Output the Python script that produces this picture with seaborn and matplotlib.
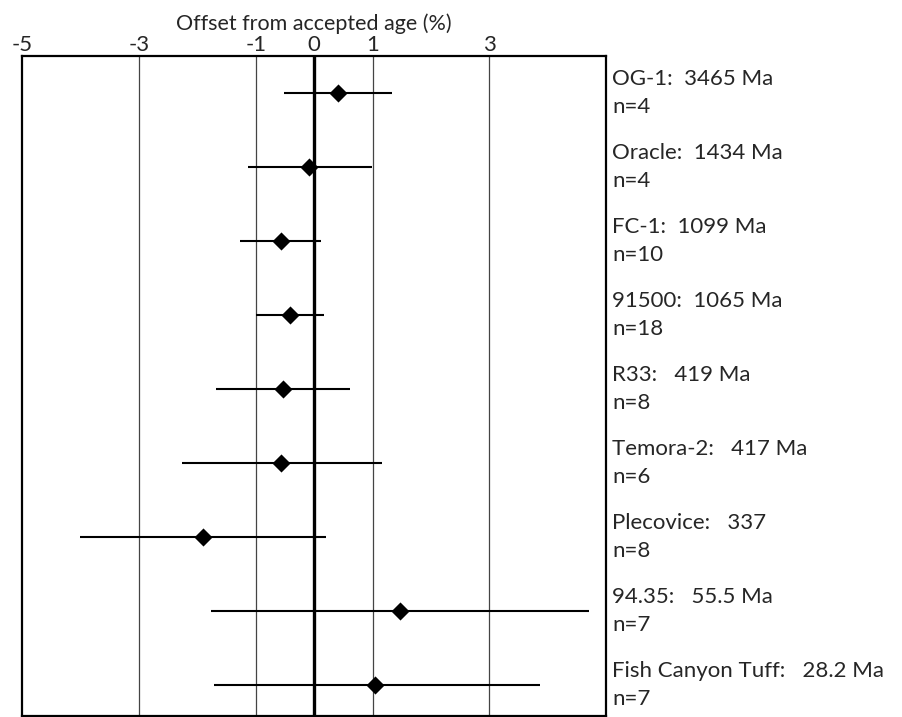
import matplotlib
matplotlib.use("Agg")
import matplotlib.pyplot as plt
import matplotlib.transforms as mtransforms
import seaborn as sns
import pandas as pd

names = ["OG-1:  3465 Ma", "Oracle:  1434 Ma", "FC-1:  1099 Ma", "91500:  1065 Ma",
         "R33:   419 Ma", "Temora-2:   417 Ma", "Plecovice:   337", "94.35:   55.5 Ma",
         "Fish Canyon Tuff:   28.2 Ma"]
counts = ["n=4", "n=4", "n=10", "n=18", "n=8", "n=6", "n=8", "n=7", "n=7"]
offset = [0.41, -0.08, -0.57, -0.42, -0.53, -0.56, -1.90, 1.47, 1.04]
err_low = [-0.52, -1.13, -1.27, -1.00, -1.68, -2.27, -4.00, -1.76, -1.71]
err_high = [1.33, 0.99, 0.12, 0.17, 0.62, 1.16, 0.20, 4.71, 3.87]
xticks = [-5, -3, -1, 0, 1, 3]
gridx = [-3, -1, 1, 3]

df = pd.DataFrame({"row": list(range(len(names))), "offset": offset,
                   "lo": err_low, "hi": err_high})

sns.set_theme(style="white")
plt.rcParams["font.family"] = ["Lato", "DejaVu Sans"]

fig = plt.figure(figsize=(9.03, 7.17), dpi=100)
ax = fig.add_axes([0.0244, 0.002, 0.647, 0.920])

for g in gridx:
    ax.axvline(g, color="#444444", lw=0.9, zorder=1)
ax.axvline(0, color="black", lw=2.4, zorder=2)

ax.hlines(df["row"], df["lo"], df["hi"], color="black", lw=1.5, zorder=3)
sns.scatterplot(data=df, x="offset", y="row", marker="D", s=85, color="black",
                edgecolor="black", linewidth=0, ax=ax, zorder=4, legend=False)

ax.set_xlim(-5, 5)
ax.set_ylim(8.42, -0.5)
ax.xaxis.tick_top()
ax.xaxis.set_label_position("top")
ax.set_xticks(xticks)
ax.set_xticklabels([str(t) for t in xticks], fontsize=16)
ax.tick_params(axis="x", length=0, pad=1)
ax.set_yticks([])
ax.set_xlabel("Offset from accepted age (%)", fontsize=15.5, labelpad=3)
ax.set_ylabel("")
for sp in ax.spines.values():
    sp.set_color("black")
    sp.set_linewidth(1.6)

trans = mtransforms.blended_transform_factory(ax.transAxes, ax.transData)
for i, (nm, c) in enumerate(zip(names, counts)):
    ax.text(1.01, i, nm + "\n" + c, transform=trans, ha="left", va="center",
            fontsize=16, linespacing=1.5, clip_on=False)

fig.savefig("out.png", dpi=100)
